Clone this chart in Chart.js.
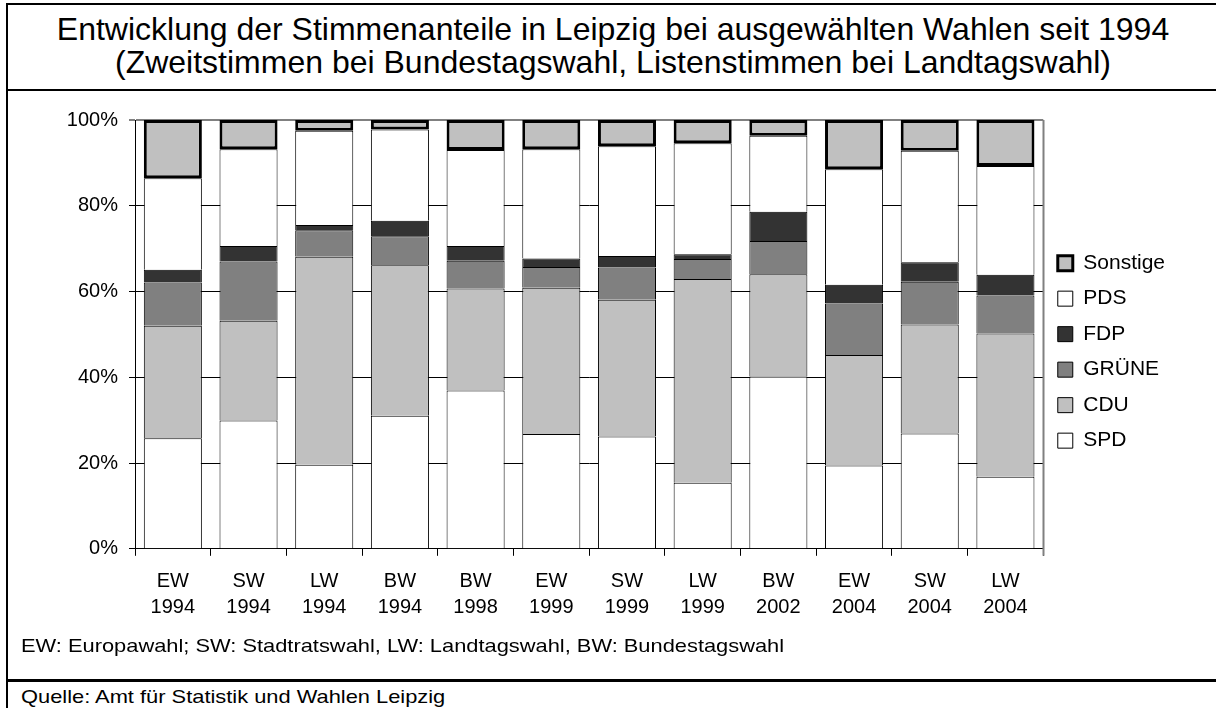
<!DOCTYPE html>
<html lang="de">
<head>
<meta charset="utf-8">
<title>Stimmenanteile Leipzig</title>
<script src="https://cdn.jsdelivr.net/npm/chart.js@4.4.1/dist/chart.umd.min.js"></script>
<style>
    html, body { margin: 0; padding: 0; background: #fff; }
    body { width: 1216px; height: 708px; position: relative; overflow: hidden;
           font-family: 'Liberation Sans', Arial, sans-serif; color: #000; }
    .line { position: absolute; background: #000; }
    #title { position: absolute; left: 8px; top: 13px; width: 1210px; text-align: center;
             font-size: 32px; line-height: 33px; white-space: nowrap; }
    .note { position: absolute; left: 21px; font-size: 19px; line-height: 22px; white-space: nowrap;
            transform: scaleX(1.15); transform-origin: 0 0; }
    #chartBox { position: absolute; left: 0; top: 92px; width: 1216px; height: 588px; }
</style>
</head>
<body>
    <div class="line" style="left:6px; top:3px; width:1210px; height:2px;"></div>
    <div class="line" style="left:6px; top:3px; width:2px; height:705px;"></div>
    <div class="line" style="left:6px; top:89px; width:1210px; height:2px;"></div>
    <div class="line" style="left:6px; top:679px; width:1210px; height:3px;"></div>

    <div id="title">Entwicklung der Stimmenanteile in Leipzig bei ausgewählten Wahlen seit 1994<br>(Zweitstimmen bei Bundestagswahl, Listenstimmen bei Landtagswahl)</div>

    <div id="chartBox"><canvas id="wahlChart"></canvas></div>

    <div class="note" style="top:635px;">EW: Europawahl; SW: Stadtratswahl, LW: Landtagswahl, BW: Bundestagswahl</div>
    <div class="note" style="top:686px;">Quelle: Amt für Statistik und Wahlen Leipzig</div>

<script>
    // --- Daten (Anteile in %) ---
    const wahlen = [
        ['EW', '1994'], ['SW', '1994'], ['LW', '1994'], ['BW', '1994'],
        ['BW', '1998'], ['EW', '1999'], ['SW', '1999'], ['LW', '1999'],
        ['BW', '2002'], ['EW', '2004'], ['SW', '2004'], ['LW', '2004']
    ];
    const spd      = [25.8, 29.9, 19.6, 31.0, 36.9, 26.8, 26.2, 15.4, 40.2, 19.4, 26.9, 16.8];
    const cdu      = [26.2, 23.3, 48.5, 35.1, 23.8, 34.1, 31.9, 47.5, 23.8, 25.8, 25.4, 33.4];
    const gruene   = [10.1, 13.8,  6.2,  6.8,  6.5,  4.8,  7.5,  4.7,  7.8, 12.0, 10.0,  8.9];
    const fdp      = [ 3.0,  3.6,  1.2,  3.6,  3.4,  2.0,  2.7,  1.1,  6.8,  4.4,  4.5,  4.8];
    const pds      = [21.3, 22.6, 22.0, 21.3, 22.4, 25.5, 25.6, 25.9, 17.7, 26.9, 26.0, 25.4];
    const sonstige = [13.6,  6.8,  2.5,  2.2,  7.0,  6.8,  6.1,  5.4,  3.7, 11.5,  7.2, 10.7];
    const yTicks   = [0, 20, 40, 60, 80, 100];

    Chart.defaults.font.family = "'Liberation Sans', Arial, sans-serif";
    Chart.defaults.color = '#000';

    function segment(label, data, color, width) {
        return {
            label: label,
            data: data,
            backgroundColor: color,
            borderColor: '#000',
            borderWidth: width,
            borderSkipped: width > 1 ? false : 'start',
            barPercentage: 0.767,
            categoryPercentage: 1.0
        };
    }

    // Rahmen rechts in grau
    const plotFrame = {
        id: 'plotFrame',
        afterDatasetsDraw(chart) {
            const { ctx, chartArea: a } = chart;
            ctx.save();
            ctx.strokeStyle = '#808080';
            ctx.lineWidth = 2;
            ctx.beginPath();
            ctx.moveTo(Math.round(a.right) + 0.5, a.top);
            ctx.lineTo(Math.round(a.right) + 0.5, a.bottom + 7);
            ctx.stroke();
            ctx.restore();
        }
    };

    new Chart(document.getElementById('wahlChart'), {
        type: 'bar',
        data: {
            labels: wahlen,
            datasets: [
                segment('SPD', spd, '#ffffff', 1),
                segment('CDU', cdu, '#c0c0c0', 1),
                segment('GRÜNE', gruene, '#808080', 1),
                segment('FDP', fdp, '#333333', 1),
                segment('PDS', pds, '#ffffff', 1),
                segment('Sonstige', sonstige, '#c0c0c0', 3)
            ]
        },
        options: {
            responsive: true,
            maintainAspectRatio: false,
            animation: false,
            layout: { padding: { top: 28, right: 41, bottom: 47, left: 0 } },
            scales: {
                x: {
                    stacked: true,
                    grid: { drawOnChartArea: false, drawTicks: true, tickLength: 7, color: '#000' },
                    border: { color: '#000', width: 1 },
                    ticks: { font: { size: 20, lineHeight: 1.33 }, padding: 12, maxRotation: 0, autoSkip: false }
                },
                y: {
                    stacked: true,
                    min: 0,
                    max: 100,
                    afterFit(scale) { scale.width = 135; },
                    afterBuildTicks(scale) { scale.ticks = yTicks.map(v => ({ value: v })); },
                    grid: {
                        color: ctx => (ctx.tick && ctx.tick.value === 100) ? '#808080' : '#000',
                        lineWidth: ctx => (ctx.tick && ctx.tick.value === 100) ? 2 : 1,
                        tickLength: 6
                    },
                    border: { color: '#000', width: 1 },
                    ticks: { font: { size: 20 }, padding: 11, callback: v => v + '%' }
                }
            },
            plugins: {
                legend: {
                    position: 'right',
                    fullSize: false,
                    reverse: true,
                    title: { display: true, text: '', font: { size: 15, lineHeight: 1 }, padding: { top: 10, bottom: 10 } },
                    labels: {
                        font: { size: 21 },
                        boxWidth: 15,
                        boxHeight: 15,
                        padding: 14.5,
                        color: '#000'
                    }
                },
                tooltip: { enabled: false }
            }
        },
        plugins: [plotFrame]
    });
</script>
</body>
</html>
